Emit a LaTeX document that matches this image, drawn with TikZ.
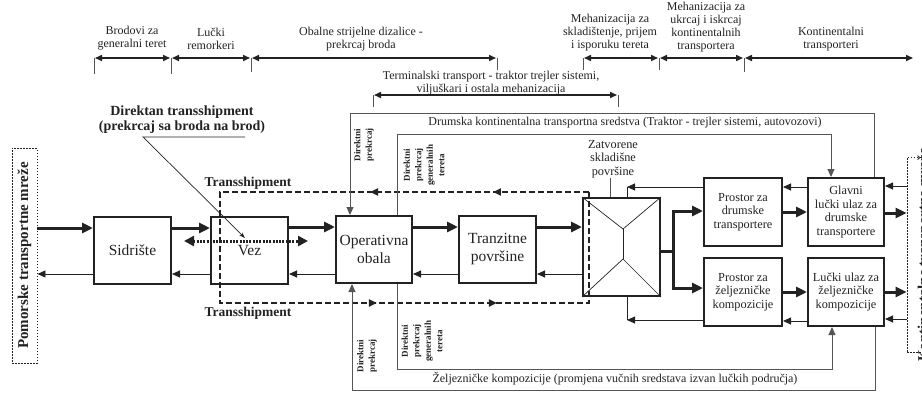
\documentclass[tikz,border=0pt]{standalone}
\usepackage{fontspec}
\setmainfont{Liberation Serif}
\usetikzlibrary{arrows.meta,decorations.markings}

\definecolor{ink}{HTML}{222222}
\definecolor{wire}{HTML}{555555}

\newcommand{\lblfont}{\fontsize{12}{13}\selectfont}
\newcommand{\boxfont}{\fontsize{12.3}{13.6}\selectfont}
\newcommand{\bigboxfont}{\fontsize{15.5}{18}\selectfont}
\newcommand{\netfont}{\bfseries\fontsize{15}{17}\selectfont}
\newcommand{\dtfont}{\bfseries\fontsize{14}{15}\selectfont}
\newcommand{\tsfont}{\bfseries\fontsize{13.5}{15}\selectfont}
\newcommand{\vfont}{\bfseries\fontsize{9}{11.5}\selectfont}

\begin{document}
\begin{tikzpicture}[x=1pt,y=-1pt,
  box/.style={draw=ink, line width=2pt, align=center, inner sep=1pt, text=ink},
  netbox/.style={draw=ink, line width=0.9pt, dash pattern=on 1.5pt off 1.5pt},
  thk/.style={draw=ink, line width=3pt, -{Triangle[length=11pt,width=10pt]}},
  thkline/.style={draw=ink, line width=3pt},
  thn/.style={draw=ink, line width=0.9pt, -{Triangle[length=8pt,width=7pt]}},
  thnline/.style={draw=ink, line width=0.9pt},
  route/.style={draw=wire, line width=0.9pt, -{Triangle[length=8pt,width=7pt]}},
  dim/.style={draw=ink, line width=1.5pt, shorten <=1pt, shorten >=1pt,
    {Triangle[length=7pt,width=6pt]}-{Triangle[length=7pt,width=6pt]}},
  tickline/.style={draw=wire, line width=1pt},
  lbl/.style={text=ink, align=center, font=\lblfont, inner sep=0pt},
  vlbl/.style={text=ink, align=center, font=\vfont, rotate=90, inner sep=0pt},
]
\useasboundingbox (0,0) rectangle (922,392);
\clip (0,0) rectangle (922,392);

% ---------- dimension labels along the top ----------
\node[lbl] (l1) at (132,38.5) {Brodovi za\\generalni teret};
\node[lbl] (l2) at (211,38.5) {Lučki\\remorkeri};
\node[lbl] (l3) at (361,39.5) {Obalne strijelne dizalice -\\prekrcaj broda};
\node[lbl] (l4) at (610,33) {Mehanizacija za\\skladištenje, prijem\\i isporuku tereta};
\node[lbl] (l5) at (706,27) {Mehanizacija za\\ukrcaj i iskrcaj\\kontinentalnih\\transportera};
\node[lbl] (l6) at (831,39.5) {Kontinentalni\\transporteri};
\node[lbl] (l7) at (491,83.5) {Terminalski transport - traktor trejler sistemi,\\viljuškari i ostala mehanizacija};

\coordinate (t1) at (94,58);
\coordinate (t2) at (171,58);
\coordinate (t3) at (251,58);
\coordinate (t4) at (497,58);
\coordinate (t5) at (583,58);
\coordinate (t6) at (659,58);
\coordinate (t7) at (744,58);
\coordinate (t8) at (914,58);
\coordinate (t9) at (373,95);
\coordinate (t10) at (618,95);

\draw[dim] (t1) -- (t2);
\draw[dim] (t2) -- (t3);
\draw[dim] (t3) -- (t4);
\draw[dim] (t5) -- (t6);
\draw[dim] (t6) -- (t7);
\draw[dim] (t7) -- (t8);
\draw[dim] (t9) -- (t10);

\foreach \t/\len in {t1/16,t2/16,t3/14,t4/12,t5/12,t6/12,t7/14,t9/12,t10/12}
  \draw[tickline] (\t) -- ++(0,\len);

% ---------- network boundaries ----------
\node[netbox, minimum width=25pt, minimum height=215pt] (pom) at (24.5,255.5) {};
\node[text=ink, font=\netfont, rotate=90, inner sep=0pt] (pomtxt) at (pom) {Pomorske transportne mreže};
\node[netbox, minimum width=34pt, minimum height=195pt] (kon) at (924,254.5) {};
\node[text=ink, font=\netfont, rotate=90, inner sep=0pt] (kontxt) at (924.5,255) {Kontinentalne transportne mreže};

% ---------- port subsystems ----------
\node[box, font=\bigboxfont, minimum width=77pt, minimum height=67pt] (sid) at (132.5,250.5) {Sidrište};
\node[box, font=\bigboxfont, minimum width=77pt, minimum height=67pt] (vez) at (249.5,250.5) {Vez};
\node[box, font=\bigboxfont, minimum width=76pt, minimum height=67pt] (op) at (374,249.5) {Operativna\\obala};
\node[box, font=\bigboxfont, minimum width=77pt, minimum height=67pt] (tr) at (497.5,249.5) {Tranzitne\\površine};
\node[box, minimum width=77pt, minimum height=98pt] (wh) at (621.5,247) {};
\node[box, font=\boxfont, minimum width=78pt, minimum height=68pt] (pd) at (743,212) {Prostor za\\drumske\\transportere};
\node[box, font=\boxfont, minimum width=76pt, minimum height=68pt] (gl) at (846,212) {Glavni\\lučki ulaz za\\drumske\\transportere};
\node[box, font=\boxfont, minimum width=78pt, minimum height=68pt] (pz) at (743,292) {Prostor za\\željezničke\\kompozicije};
\node[box, font=\boxfont, minimum width=76pt, minimum height=68pt] (lu) at (846,292) {Lučki ulaz za\\željezničke\\kompozicije};

% warehouse roof lines
\coordinate (wt) at (623,229);
\coordinate (wb) at (623,259);
\draw[ink, line width=0.7pt] (wh.north west) -- (wt) -- (wh.north east);
\draw[ink, line width=0.7pt] (wt) -- (wb);
\draw[ink, line width=0.7pt] (wh.south west) -- (wb) -- (wh.south east);

\node[lbl, font=\boxfont] (whl) at (613,159) {Zatvorene\\skladišne\\površine};
\draw[draw=wire, line width=0.9pt] (whl.south -| 610,0) -- (wh.north -| 610,0);

% ---------- transshipment zone ----------
\draw[draw=ink, line width=2pt, dash pattern=on 6pt off 3pt,
  postaction={decorate},
  decoration={markings,
    mark=at position 0.1 with {\arrow{Triangle[length=8pt,width=7pt]}},
    mark=at position 0.228 with {\arrow{Triangle[length=8pt,width=7pt]}},
    mark=at position 0.6635 with {\arrow{Triangle[length=8pt,width=7pt]}},
    mark=at position 0.7885 with {\arrow{Triangle[length=8pt,width=7pt]}}}]
  (589,192) -- (220,192) -- (220,303) -- (589,303) -- cycle;
\node[text=ink, font=\tsfont, inner sep=0pt] (ts1) at (248,183) {Transshipment};
\node[text=ink, font=\tsfont, inner sep=0pt] (ts2) at (248,313) {Transshipment};

% direct ship-to-ship transfer
\coordinate (dl) at (184,241);
\coordinate (dr) at (308,241);
\draw[draw=ink, line width=3pt, dash pattern=on 2pt off 1.3pt,
  {Triangle[length=10pt,width=10pt]}-{Triangle[length=10pt,width=10pt]}] (dl) -- (dr);
\node[text=ink, font=\dtfont, align=center, inner sep=0pt] (dts) at (182,119.5)
  {Direktan transshipment\\(prekrcaj sa broda na brod)};
\coordinate (ldA) at (245,137);
\coordinate (ldB) at (143,137);
\coordinate (ldC) at (245,238);
\draw[ink, line width=0.7pt, -{Stealth[length=6pt,width=4pt]}] (ldA) -- (ldB) -- (ldC);

% ---------- main flow (thick) and return flow (thin) ----------
\draw[thk] (pom.east |- 0,228) -- (sid.west |- 0,228);
\draw[thk] (sid.east |- 0,228) -- (vez.west |- 0,228);
\draw[thk] (vez.east |- 0,227) -- (op.west |- 0,227);
\draw[thk] (op.east |- 0,227) -- (tr.west |- 0,227);
\draw[thk] (tr.east |- 0,227) -- (wh.west |- 0,227);

\draw[thn] (sid.west |- 0,274) -- (pom.east |- 0,274);
\draw[thn] (vez.west |- 0,274) -- (sid.east |- 0,274);
\draw[thn] (op.west |- 0,274) -- (vez.east |- 0,274);
\draw[thn] (tr.west |- 0,274) -- (op.east |- 0,274);
\draw[thn] (wh.west |- 0,274) -- (tr.east |- 0,274);

% warehouse to road and rail areas
\draw[thk] (wh.east |- 0,251) -- (673,251) |- (pd.west |- 0,211);
\draw[thk] (wh.east |- 0,251) -- (673,251) |- (pz.west |- 0,288);
\draw[thk] (pd.east |- 0,212) -- (gl.west |- 0,212);
\draw[thk] (pz.east |- 0,292) -- (lu.west |- 0,292);
\draw[thk] (gl.east |- 0,213) -- (kon.west |- 0,213);
\draw[thk] (lu.east |- 0,292) -- (kon.west |- 0,292);

\coordinate (rt) at (627,187);
\coordinate (rb) at (627,320);
\draw[thn] (pd.west |- 0,187) -- (rt);
\draw[thnline] (rt) -- (wh.north -| rt);
\draw[thn] (pz.west |- 0,320) -- (rb);
\draw[thnline] (rb) -- (wh.south -| rb);
\draw[thn] (gl.west |- 0,187) -- (pd.east |- 0,187);
\draw[thn] (lu.west |- 0,321) -- (pz.east |- 0,321);
\draw[thn] (kon.west |- 0,186) -- (gl.east |- 0,186);
\draw[thn] (kon.west |- 0,319) -- (lu.east |- 0,319);

% ---------- direct transfer routes ----------
\draw[route] (gl.north -| 874,0) |- (350,113) -- (op.north -| 350,0);
\draw[route] (op.north -| 397,0) |- (831,134) -- (gl.north -| 831,0);
\draw[route] (op.south -| 397,0) |- (832,369) -- (lu.south -| 832,0);
\draw[route] (lu.south -| 875,0) |- (352,390) -- (op.south -| 352,0);

\node[lbl] (drum) at (625,123) {Drumska kontinentalna transportna sredstva (Traktor - trejler sistemi, autovozovi)};
\node[lbl] (zelj) at (615,379) {Željezničke kompozicije (promjena vučnih sredstava izvan lučkih područja)};

\node[vlbl] (v1) at (364,145) {Direktni\\prekrcaj};
\node[vlbl] (v2) at (424,165) {Direktni\\prekrcaj\\generalnih\\tereta};
\node[vlbl] (v3) at (367,356) {Direktni\\prekrcaj};
\node[vlbl] (v4) at (422,341) {Direktni\\prekrcaj\\generalnih\\tereta};
\end{tikzpicture}
\end{document}
